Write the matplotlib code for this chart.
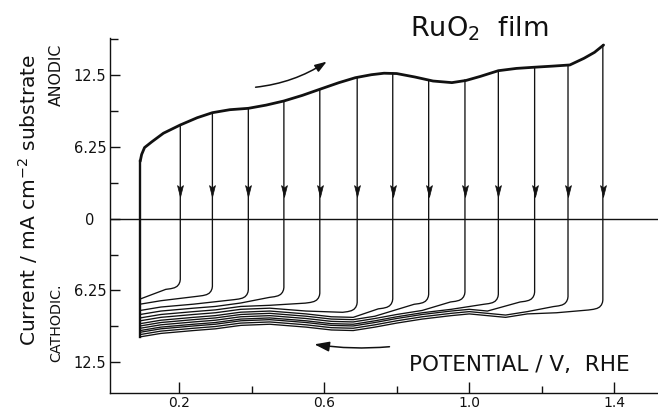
import numpy as np
import matplotlib
matplotlib.use('Agg')
import matplotlib.pyplot as plt
from matplotlib.path import Path
from matplotlib.patches import FancyArrowPatch
from matplotlib.ticker import FixedLocator

# ---------------- data ----------------
# anodic envelope (thick upper curve), potential in V vs RHE, current in mA cm-2
anodic_E = [0.093, 0.093, 0.097, 0.105, 0.125, 0.157, 0.2035, 0.25, 0.292, 0.34,
            0.391, 0.44, 0.489, 0.54, 0.588, 0.64, 0.686, 0.73, 0.765, 0.80,
            0.85, 0.90, 0.952, 0.991, 1.03, 1.080, 1.13, 1.178, 1.23, 1.277,
            1.316, 1.345, 1.370]
anodic_I = [-10.3, 5.0, 5.6, 6.2, 6.7, 7.45, 8.17, 8.8, 9.24, 9.5,
            9.62, 9.9, 10.26, 10.75, 11.28, 11.85, 12.29, 12.55, 12.68, 12.65,
            12.35, 12.0, 11.86, 12.05, 12.4, 12.9, 13.1, 13.2, 13.3, 13.4,
            13.98, 14.5, 15.14]

# reversal potentials of the successive cycles and the current at reversal
reversal_E = [0.2035, 0.292, 0.391, 0.489, 0.588, 0.691, 0.789, 0.888, 0.988,
              1.080, 1.180, 1.272, 1.368]
reversal_top_I = [8.17, 9.24, 9.62, 10.26, 11.28, 12.3, 12.68, 12.0, 12.08,
                  12.9, 13.2, 13.4, 15.14]
# current where the vertical cathodic drop starts to bend
knee_I = [-5.3, -5.9, -6.2, -6.0, -6.5, -7.3, -7.0, -6.6, -6.4, -6.6, -6.4, -6.8, -7.1]
# vertical shift of each cathodic tail above the lowest one
band_offset = [3.3, 2.85, 2.3, 1.95, 1.65, 1.4, 1.15, 0.95, 0.75, 0.55, 0.4, 0.2, 0.0]

# lowest cathodic tail (profile shared by the band of return sweeps)
cath_E = [0.093, 0.15, 0.24, 0.30, 0.37, 0.45, 0.55, 0.62, 0.68, 0.74, 0.80,
          0.87, 0.95, 1.00, 1.05, 1.10, 1.16, 1.24, 1.30, 1.34]
cath_I = [-10.3, -10.0, -9.75, -9.6, -9.3, -9.2, -9.45, -9.7, -9.75, -9.45, -9.1,
          -8.75, -8.45, -8.3, -8.45, -8.6, -8.3, -8.2, -8.05, -7.96]

# shape of the rounded knee (relative to the end of the vertical drop)
corner_dE = [0.0, -0.001, -0.004, -0.009, -0.016, -0.026, -0.04]
corner_dI = [0.0, -0.2, -0.42, -0.6, -0.72, -0.8, -0.86]

arrow_head_I = 2.4  # centre of the down-pointing arrowheads

ytick_vals = [12.5, 6.25, 0, -6.25, -12.5]
ytick_labels = ['12.5', '6.25', '0', '6.25', '12.5']
yminor_vals = [15.625, 9.375, 3.125, -3.125, -9.375]
xtick_vals = [0.2, 0.6, 1.0, 1.4]
xtick_labels = ['0.2', '0.6', '1.0', '1.4']
xminor_vals = [0.4, 0.8, 1.2]

# ---------------- figure ----------------
W, H = 658, 409
fig = plt.figure(figsize=(W / 100, H / 100), dpi=100)
ax = fig.add_axes([110 / W, (H - 393.3) / H, (W - 110) / W, (393.3 - 38) / H])
ax.set_xlim(0.0098, 1.52)
ax.set_ylim(-15.22, 15.75)

thin = 0.95
ink = '#111111'

# zero-current line
ax.axhline(0, color=ink, lw=1.0, zorder=1)

# cathodic return sweeps
cE = np.array(cath_E)
cI = np.array(cath_I)
for Er, top, kn, off in zip(reversal_E, reversal_top_I, knee_I, band_offset):
    xs = [Er, Er]
    ys = [top, kn]
    xs += [Er + d for d in corner_dE[1:]]
    ys += [kn + d for d in corner_dI[1:]]
    mask = cE < Er - 0.1
    band_E = cE[mask][::-1]
    band_I = cI[mask][::-1] + off
    xs += list(band_E)
    ys += list(band_I)
    ax.plot(xs, ys, color=ink, lw=thin, solid_joinstyle='round', zorder=2)

# anodic envelope
ax.plot(anodic_E[:2], anodic_I[:2], color=ink, lw=1.7, zorder=3)
ax.plot(anodic_E[1:], anodic_I[1:], color=ink, lw=2.0, solid_joinstyle='round',
        solid_capstyle='round', zorder=3)

# arrowheads on the drops
head = Path([(-0.25, 0.5), (0.0, 0.3), (0.25, 0.5), (0.0, -0.5), (-0.25, 0.5)],
            [Path.MOVETO, Path.LINETO, Path.LINETO, Path.LINETO, Path.CLOSEPOLY])
ax.plot(reversal_E, [arrow_head_I] * len(reversal_E), ls='none', marker=head,
        ms=8.5, color=ink, mec=ink, mew=0.5, zorder=4)

# sweep direction arrows
a1 = FancyArrowPatch((0.411, 11.46), (0.607, 13.69), connectionstyle='arc3,rad=0.12',
                     arrowstyle='-|>,head_length=7,head_width=2.4', color=ink, lw=1.1,
                     shrinkA=0, shrinkB=0, zorder=4)
ax.add_patch(a1)
a2 = FancyArrowPatch((0.78, -11.16), (0.573, -10.95), connectionstyle='arc3,rad=-0.06',
                     arrowstyle='-|>,head_length=9,head_width=3.0', color=ink, lw=1.1,
                     shrinkA=0, shrinkB=0, zorder=4)
ax.add_patch(a2)

# axes styling
for s in ['top', 'right']:
    ax.spines[s].set_visible(False)
for s in ['left', 'bottom']:
    ax.spines[s].set_linewidth(1.0)
    ax.spines[s].set_color(ink)

ax.yaxis.set_major_locator(FixedLocator(ytick_vals))
ax.yaxis.set_minor_locator(FixedLocator(yminor_vals))
ax.set_yticklabels(ytick_labels)
ax.xaxis.set_major_locator(FixedLocator(xtick_vals))
ax.xaxis.set_minor_locator(FixedLocator(xminor_vals))
ax.set_xticklabels(xtick_labels)

ax.tick_params(axis='y', which='major', direction='in', length=7.2, width=1.0,
               pad=14.4, labelsize=10.5, colors=ink)
ax.tick_params(axis='y', which='minor', direction='in', length=5.8, width=1.0, colors=ink)
ax.tick_params(axis='x', which='major', direction='in', length=7.9, width=1.0,
               pad=1.8, labelsize=10, colors=ink)
ax.tick_params(axis='x', which='minor', direction='in', length=5.0, width=1.0, colors=ink)
for lab in ax.get_yticklabels():
    lab.set_horizontalalignment('center')

# texts
fig.text(479 / W, 1 - 36.5 / H, r'RuO$_2$  film', ha='center', va='baseline',
         fontsize=19.5, color=ink)
fig.text(519 / W, 1 - 371 / H, 'POTENTIAL / V,  RHE', ha='center', va='baseline',
         fontsize=15.5, color=ink)
fig.text(28 / W, 1 - 200 / H, r'Current / mA cm$^{-2}$ substrate', rotation=90,
         ha='center', va='center', fontsize=14.6, color=ink)
fig.text(56 / W, 1 - 75 / H, 'ANODIC', rotation=90, ha='center', va='center',
         fontsize=11.3, color=ink)
fig.text(56 / W, 1 - 323 / H, 'CATHODIC.', rotation=90, ha='center', va='center',
         fontsize=10.3, color=ink)

fig.savefig('out.png', dpi=100)
